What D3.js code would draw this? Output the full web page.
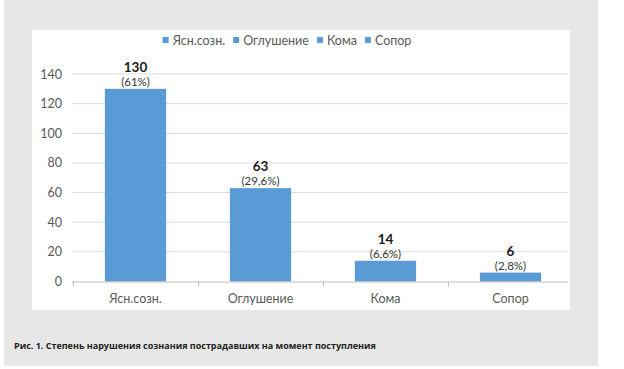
<!DOCTYPE html>
<html><head><meta charset="utf-8">
<script src="https://cdn.jsdelivr.net/npm/d3@7"></script>
<style>
html,body{margin:0;padding:0;background:#fff;}
svg{display:block;}
</style></head>
<body>
<svg id="c" width="624" height="369"></svg>
<script>
const categories = ["Ясн.созн.", "Оглушение", "Кома", "Сопор"];
const values = [130, 63, 14, 6];
const percentLabels = ["(61%)", "(29,6%)", "(6,6%)", "(2,8%)"];
const yTicks = [0, 20, 40, 60, 80, 100, 120, 140];
const caption = "Рис. 1. Степень нарушения сознания пострадавших на момент поступления";

const svg = d3.select("#c");
const font = "Lato, 'Open Sans', sans-serif";
const blue = "#5B9BD5";

// gray page panel
svg.append("rect").attr("x", 4).attr("y", 0).attr("width", 594).attr("height", 366).attr("fill", "#e7e7e7");
// white chart area
svg.append("rect").attr("x", 32).attr("y", 30).attr("width", 538).attr("height", 280).attr("fill", "#fff");

const x = d3.scaleBand().domain(categories).range([73, 573]).paddingInner(0.51).paddingOuter(0.255);
const y = d3.scaleLinear().domain([0, 140]).range([281.5, 74]);

// gridlines
svg.append("g").selectAll("line").data(yTicks.filter(d => d > 0)).join("line")
  .attr("x1", 72).attr("x2", 568)
  .attr("y1", d => y(d)).attr("y2", d => y(d))
  .attr("stroke", "#d9d9d9").attr("stroke-width", 1);

// y axis labels
const yAxis = d3.axisLeft(y).tickValues(yTicks).tickSize(0).tickPadding(10);
const gy = svg.append("g").attr("transform", "translate(72,0)").call(yAxis);
gy.select(".domain").remove();
gy.selectAll("text").attr("font-family", font).attr("font-size", 12.5).attr("fill", "#595959");

// bars
svg.append("g").selectAll("rect").data(values).join("rect")
  .attr("x", (d, i) => x(categories[i]))
  .attr("width", x.bandwidth())
  .attr("y", d => y(d))
  .attr("height", d => y(0) - y(d))
  .attr("fill", blue);

// x axis
const xAxis = d3.axisBottom(x).tickSize(0).tickPadding(13);
const gx = svg.append("g").attr("transform", `translate(0,${y(0)})`).call(xAxis);
gx.select(".domain").attr("stroke", "#bfbfbf").attr("d", "M72,0.5H568");
gx.selectAll("text").attr("font-family", font).attr("font-size", 12.5).attr("fill", "#595959");
// category separator ticks
const step = x.step();
const bounds = d3.range(categories.length + 1).map(i => 73 + i * step).filter(v => v <= 570);
svg.append("g").selectAll("line").data(bounds).join("line")
  .attr("x1", d => Math.round(d) + 0.5).attr("x2", d => Math.round(d) + 0.5)
  .attr("y1", y(0)).attr("y2", y(0) + 5)
  .attr("stroke", "#bfbfbf");

// data labels
const lab = svg.append("g");
values.forEach((v, i) => {
  const cx = x(categories[i]) + x.bandwidth() / 2;
  lab.append("text").attr("x", cx).attr("y", y(v) - 17)
    .attr("text-anchor", "middle").attr("font-family", font).attr("font-weight", "bold")
    .attr("font-size", 13.5).attr("fill", "#1a1a1a").text(v);
  lab.append("text").attr("x", cx).attr("y", y(v) - 3)
    .attr("text-anchor", "middle").attr("font-family", font)
    .attr("font-size", 11.5).attr("fill", "#333").text(percentLabels[i]);
});

// legend
const leg = svg.append("g");
let lx = 0;
categories.forEach(c => {
  const g = leg.append("g").attr("transform", `translate(${lx},0)`);
  g.append("rect").attr("x", 0).attr("y", -4).attr("width", 6).attr("height", 6).attr("fill", blue);
  const t = g.append("text").attr("x", 10).attr("y", 0).attr("dy", "0.32em")
    .attr("font-family", font).attr("font-size", 12.5).attr("fill", "#595959").text(c);
  lx += 10 + t.node().getComputedTextLength() + 8;
});
const legW = lx - 8;
leg.attr("transform", `translate(${287 - legW / 2},41)`);

// caption
svg.append("text").attr("x", 14).attr("y", 349)
  .attr("font-family", "'Open Sans', sans-serif").attr("font-weight", "bold")
  .attr("font-size", 9).attr("fill", "#222").text(caption);
</script>
</body></html>
